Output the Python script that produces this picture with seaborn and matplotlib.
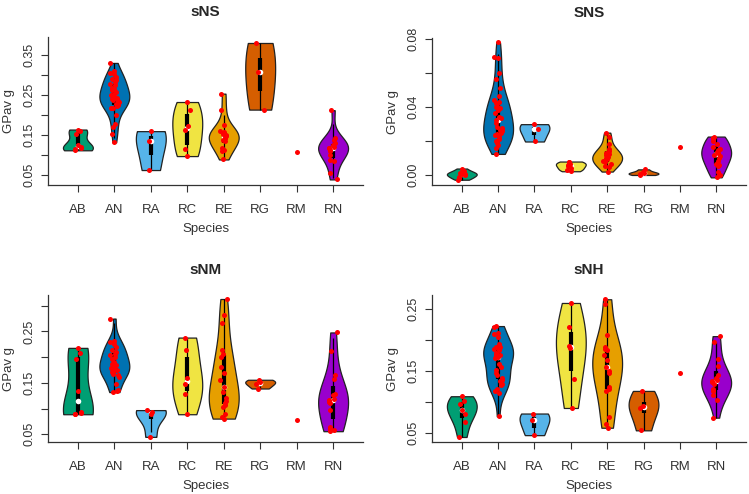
import numpy as np
import pandas as pd
import matplotlib
matplotlib.use("Agg")
import matplotlib.pyplot as plt
import seaborn as sns

species = ["AB", "AN", "RA", "RC", "RE", "RG", "RM", "RN"]
colors = ["#009E73", "#0072B2", "#56B4E9", "#F0E442", "#E69F00", "#D55E00", "#CC79A7", "#9900CC"]

# GPavg values
sNS = {
    "AB": [0.164, 0.161, 0.153, 0.125, 0.120, 0.118, 0.114, 0.112],
    "AN": [0.331, 0.311, 0.306, 0.302, 0.296, 0.290, 0.287, 0.283, 0.279, 0.275, 0.269,
           0.265, 0.262, 0.258, 0.254, 0.250, 0.246, 0.244, 0.242, 0.240, 0.238, 0.235,
           0.232, 0.228, 0.225, 0.222, 0.219, 0.217, 0.200, 0.179, 0.171, 0.154, 0.132],
    "RA": [0.160, 0.136, 0.0625],
    "RC": [0.233, 0.2125, 0.1725, 0.164, 0.114, 0.0975],
    "RE": [0.254, 0.2125, 0.175, 0.160, 0.158, 0.154, 0.150, 0.147, 0.144, 0.142,
           0.1375, 0.135, 0.117, 0.1125, 0.110, 0.089],
    "RG": [0.381, 0.308, 0.214],
    "RM": [0.108],
    "RN": [0.2125, 0.142, 0.1375, 0.130, 0.125, 0.121, 0.118, 0.117, 0.1125, 0.110,
           0.100, 0.0875, 0.085, 0.054, 0.039],
}

SNS = {
    "AB": [0.0038, 0.0022, 0.0012, 0.0008, 0.0005, -0.0002, -0.001, -0.0018, -0.0028],
    "AN": [0.078, 0.0694, 0.0690, 0.060, 0.0564, 0.0511, 0.0466, 0.0442, 0.0432, 0.0423,
           0.0407, 0.0399, 0.0393, 0.0383, 0.0364, 0.0344, 0.0334, 0.0324, 0.0305, 0.0285,
           0.0275, 0.027, 0.0265, 0.0256, 0.0246, 0.024, 0.0236, 0.0226, 0.021, 0.020,
           0.0197, 0.0187, 0.0177, 0.016, 0.0124],
    "RA": [0.0299, 0.027, 0.0197],
    "RC": [0.0079, 0.0075, 0.0065, 0.0059, 0.005, 0.004, 0.0029, 0.0022],
    "RE": [0.0249, 0.0222, 0.0183, 0.0153, 0.0143, 0.0130, 0.0124, 0.0115, 0.0108, 0.0100,
           0.0092, 0.0085, 0.0075, 0.0065, 0.0055, 0.0049, 0.0020],
    "RG": [0.0033, 0.0016, 0.0010, 0.0006, 0.0],
    "RM": [0.0167],
    "RN": [0.0226, 0.0220, 0.0215, 0.0197, 0.0183, 0.0165, 0.0155, 0.0145, 0.0135, 0.0128,
           0.0120, 0.0110, 0.0098, 0.0085, 0.0065, 0.0059, 0.0050, 0.0020, 0.0002, -0.0014],
}

sNM = {
    "AB": [0.218, 0.208, 0.197, 0.135, 0.093, 0.091, 0.090, 0.089],
    "AN": [0.275, 0.232, 0.230, 0.2265, 0.220, 0.2135, 0.210, 0.207, 0.204, 0.2005, 0.197,
           0.191, 0.1875, 0.184, 0.181, 0.178, 0.176, 0.1745, 0.172, 0.171, 0.168, 0.165,
           0.1615, 0.1485, 0.137, 0.134, 0.132],
    "RA": [0.097, 0.0935, 0.090, 0.045],
    "RC": [0.238, 0.2135, 0.160, 0.147, 0.129, 0.089],
    "RE": [0.313, 0.282, 0.267, 0.2135, 0.206, 0.2005, 0.181, 0.169, 0.155, 0.141, 0.132,
           0.1215, 0.115, 0.110, 0.1065, 0.103, 0.090, 0.084, 0.0805],
    "RG": [0.156, 0.152, 0.147, 0.139],
    "RM": [0.077],
    "RN": [0.248, 0.212, 0.165, 0.158, 0.129, 0.126, 0.119, 0.116, 0.113, 0.111, 0.097,
           0.064, 0.061, 0.058, 0.056],
}

sNH = {
    "AB": [0.109, 0.101, 0.097, 0.087, 0.080, 0.067, 0.043],
    "AN": [0.2226, 0.2204, 0.2118, 0.2096, 0.2053, 0.1934, 0.189, 0.188, 0.1863, 0.185,
           0.1836, 0.1793, 0.178, 0.176, 0.1755, 0.1728, 0.1701, 0.1609, 0.1566, 0.1522,
           0.1468, 0.1431, 0.1393, 0.136, 0.1339, 0.1295, 0.1268, 0.1214, 0.1176, 0.1144,
           0.0765],
    "RA": [0.081, 0.070, 0.046],
    "RC": [0.260, 0.221, 0.190, 0.187, 0.1376, 0.090],
    "RE": [0.266, 0.258, 0.208, 0.189, 0.186, 0.1836, 0.1755, 0.1674, 0.1566, 0.150, 0.147,
           0.124, 0.1214, 0.1176, 0.0754, 0.0635, 0.058],
    "RG": [0.1176, 0.0927, 0.0906, 0.0538],
    "RM": [0.147],
    "RN": [0.2063, 0.197, 0.170, 0.1577, 0.143, 0.139, 0.136, 0.1339, 0.132, 0.1295,
           0.1214, 0.1176, 0.1106, 0.1025, 0.0743],
}

sns.set_style("ticks")
plt.rcParams["font.family"] = ["Liberation Sans", "DejaVu Sans"]
palette = dict(zip(species, colors))
ink = "#333333"


def to_long(data):
    rows = [(sp, v) for sp in species for v in data[sp]]
    return pd.DataFrame(rows, columns=["Species", "GPavg"])


def draw_panel(ax, data, title, ylim, yticks, ylabels):
    df = to_long(data)
    # single observations get no violin (like vioplot)
    n = df.groupby("Species")["GPavg"].transform("size")
    sns.violinplot(data=df[n > 1], x="Species", y="GPavg", hue="Species",
                   order=species, hue_order=species, palette=palette,
                   cut=0, inner=None, density_norm="width", width=0.82,
                   linewidth=0.9, linecolor="#222222", saturation=1,
                   legend=False, ax=ax)

    # vioplot style inner box
    for i, sp in enumerate(species):
        vals = np.asarray(data[sp])
        if vals.size < 2:
            continue
        q1, med, q3 = np.percentile(vals, [25, 50, 75])
        iqr = q3 - q1
        lo = max(vals.min(), q1 - 1.5 * iqr)
        hi = min(vals.max(), q3 + 1.5 * iqr)
        ax.vlines(i, lo, hi, color="black", lw=0.9, zorder=3)
        ax.vlines(i, q1, q3, color="black", lw=3, zorder=3)
        ax.scatter([i], [med], s=16, color="white", linewidths=0, zorder=4)

    np.random.seed(3)
    sns.stripplot(data=df, x="Species", y="GPavg", order=species, color="red",
                  size=3.6, jitter=0.12, linewidth=0, ax=ax, zorder=5)

    ax.set_xlim(-0.82, 7.82)
    ax.set_ylim(ylim)
    ax.set_yticks(yticks)
    ax.set_yticklabels(ylabels, rotation=90, va="center")
    ax.set_title(title, fontsize=11, fontweight="bold", pad=15)
    ax.set_xlabel("Species", fontsize=9.5, color=ink, labelpad=5)
    ax.set_ylabel("GPav g", fontsize=9.5, color=ink, labelpad=6)
    ax.tick_params(axis="both", length=5, width=0.8, color=ink, labelcolor=ink,
                   labelsize=9.5)
    ax.tick_params(axis="x", pad=9)
    ax.tick_params(axis="y", pad=4, labelsize=9)
    for s in ["left", "bottom"]:
        ax.spines[s].set_color(ink)
        ax.spines[s].set_linewidth(0.9)
    sns.despine(ax=ax)


W, H = 749, 494
fig = plt.figure(figsize=(W / 100, H / 100), dpi=100)


def px_axes(left, top, right, bottom):
    return fig.add_axes([left / W, 1 - bottom / H, (right - left) / W, (bottom - top) / H])


ax1 = px_axes(48, 37, 363, 185)
ax2 = px_axes(432, 38, 746, 185)
ax3 = px_axes(48, 295, 363, 442)
ax4 = px_axes(432, 295, 746, 442)

draw_panel(ax1, sNS, "sNS", (0.025, 0.396), [0.05, 0.10, 0.15, 0.20, 0.25, 0.30, 0.35],
           ["0.05", "", "0.15", "", "0.25", "", "0.35"])
draw_panel(ax2, SNS, "SNS", (-0.0059, 0.0806), [0.0, 0.02, 0.04, 0.06, 0.08],
           ["0.00", "", "0.04", "", "0.08"])
draw_panel(ax3, sNM, "sNM", (0.035, 0.3208), [0.05, 0.10, 0.15, 0.20, 0.25, 0.30],
           ["0.05", "", "0.15", "", "0.25", ""])
draw_panel(ax4, sNH, "sNH", (0.0349, 0.2729), [0.05, 0.10, 0.15, 0.20, 0.25],
           ["0.05", "", "0.15", "", "0.25"])

fig.savefig("out.png", dpi=100)
